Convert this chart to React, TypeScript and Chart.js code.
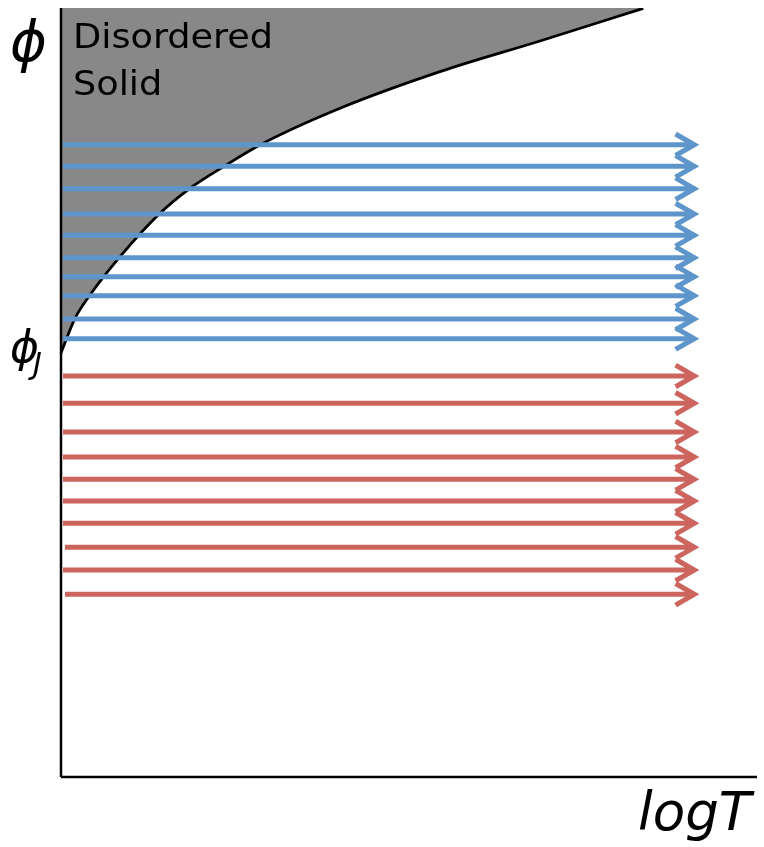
import React, { useEffect, useRef } from "react";
import { Chart, registerables } from "chart.js";

Chart.register(...registerables);

// Boundary of the disordered-solid region (x = logT units, y = phi units)
const curveX = [0, 0.82, 2.01, 4.17, 8.48, 14.22, 18.53, 23.56, 28.84, 40.09, 54.45, 68.82, 83.66];
const curveY = [55.14, 57.05, 59.65, 62.68, 67.66, 73.3, 76.55, 79.49, 82.31, 86.96, 91.72, 95.71, 99.96];

// Horizontal arrows (constant phi, increasing logT)
const blueY = [82.22, 79.41, 76.5, 73.21, 70.44, 67.53, 65.06, 62.59, 59.56, 57.0];
const blueStart = [0.29, 0.29, 0.29, 0.29, 0.29, 0.29, 0.29, 0.29, 0.29, 0.29];
const redY = [52.15, 48.6, 44.86, 41.61, 38.71, 35.89, 32.99, 29.87, 26.92, 23.76];
const redStart = [0.29, 0.29, 0.29, 0.29, 0.29, 0.29, 0.29, 0.57, 0.29, 0.57];
const arrowTip = 91.0;
const headBack = 88.3;
const headHalf = 1.4;

const BLUE = "#5e96cb";
const RED = "#cd655f";

function arrowPoints(ys: number[], starts: number[]) {
  const pts: { x: number; y: number | null }[] = [];
  ys.forEach((y, i) => {
    pts.push({ x: starts[i], y });
    pts.push({ x: arrowTip, y });
    pts.push({ x: arrowTip, y: null });
    pts.push({ x: headBack, y: y + headHalf });
    pts.push({ x: arrowTip, y });
    pts.push({ x: headBack, y: y - headHalf });
    pts.push({ x: headBack, y: null });
  });
  return pts;
}

const labelPlugin = {
  id: "labels",
  afterDraw(chart: any) {
    const ctx = chart.ctx;
    ctx.save();
    ctx.fillStyle = "#000";
    ctx.textBaseline = "alphabetic";
    ctx.textAlign = "left";
    ctx.font = 'italic 56px "DejaVu Sans"';
    ctx.fillText("ϕ", 10, 61);
    ctx.save();
    ctx.translate(73, 0);
    ctx.scale(1.11, 1);
    ctx.font = '33px "DejaVu Sans"';
    ctx.fillText("Disordered", 0, 48);
    ctx.fillText("Solid", 0, 95);
    ctx.restore();
    ctx.font = 'italic 44px "DejaVu Sans"';
    ctx.fillText("ϕ", 10, 362);
    ctx.font = 'italic 30px "DejaVu Sans"';
    ctx.fillText("J", 33, 374);
    ctx.font = 'italic 53px "DejaVu Sans"';
    ctx.fillText("logT", 638, 830);
    ctx.restore();
  },
};

export default function App() {
  const ref = useRef<HTMLCanvasElement | null>(null);
  useEffect(() => {
    if (!ref.current) return;
    const chart = new Chart(ref.current, {
      type: "line",
      data: {
        datasets: [
          {
            label: "blue",
            data: arrowPoints(blueY, blueStart) as any,
            borderColor: BLUE,
            borderWidth: 5,
            pointRadius: 0,
            spanGaps: false,
            fill: false,
            clip: false as any,
            order: 1,
            borderJoinStyle: "miter",
          },
          {
            label: "red",
            data: arrowPoints(redY, redStart) as any,
            borderColor: RED,
            borderWidth: 5,
            pointRadius: 0,
            spanGaps: false,
            fill: false,
            clip: false as any,
            order: 1,
            borderJoinStyle: "miter",
          },
          {
            label: "yaxis",
            data: [{ x: 0, y: 0 }, { x: 0, y: 100 }],
            borderColor: "#000",
            borderWidth: 2.5,
            pointRadius: 0,
            fill: false,
            clip: false as any,
            order: 2,
          },
          {
            label: "xaxis",
            data: [{ x: 0, y: 0 }, { x: 100, y: 0 }],
            borderColor: "#000",
            borderWidth: 2.5,
            pointRadius: 0,
            fill: false,
            clip: false as any,
            order: 2,
          },
          {
            label: "boundary",
            data: curveX.map((x, i) => ({ x, y: curveY[i] })),
            borderColor: "#000",
            borderWidth: 2.8,
            backgroundColor: "#888888",
            pointRadius: 0,
            fill: "end",
            cubicInterpolationMode: "monotone",
            order: 3,
          },
        ],
      },
      options: {
        animation: false,
        responsive: false,
        events: [],
        layout: { padding: { left: 61, right: 7, top: 8, bottom: 70 } },
        plugins: { legend: { display: false }, tooltip: { enabled: false } },
        scales: {
          x: { type: "linear", min: 0, max: 100, display: false },
          y: { type: "linear", min: 0, max: 100, display: false },
        },
      },
      plugins: [labelPlugin],
    });
    return () => chart.destroy();
  }, []);
  return (
    <div style={{ position: "absolute", left: 0, top: 0, width: 764, height: 847, background: "#fff" }}>
      <canvas ref={ref} width={764} height={847} style={{ display: "block" }} />
    </div>
  );
}
